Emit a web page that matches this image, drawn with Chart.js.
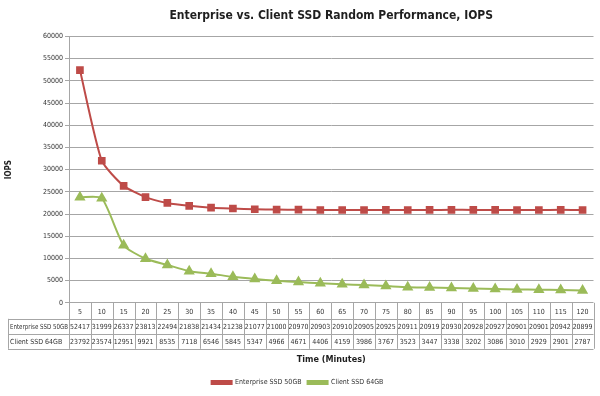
<!DOCTYPE html>
<html>
<head>
<meta charset="utf-8">
<script src="https://cdn.jsdelivr.net/npm/chart.js@4/dist/chart.umd.min.js"></script>
<style>
  html, body { margin: 0; padding: 0; background: #fff; }
  #contenedor { width: 600px; height: 396px; }
</style>
</head>
<body>
<div id="contenedor"><canvas id="grafico"></canvas></div>
<script>
// Datos del grafico
const minutos = ['5','10','15','20','25','30','35','40','45','50','55','60','65','70','75','80','85','90','95','100','105','110','115','120']
const enterprise = [52417,31999,26337,23813,22494,21838,21434,21238,21077,21000,20970,20903,20910,20905,20925,20911,20919,20930,20928,20927,20901,20901,20942,20899]
const cliente = [23792,23574,12951,9921,8535,7118,6546,5845,5347,4966,4671,4406,4159,3986,3767,3523,3447,3338,3202,3086,3010,2929,2901,2787]
const nombresSeries = ['Enterprise SSD 50GB', 'Client SSD 64GB']

const FUENTE = '"DejaVu Sans Condensed", "Liberation Sans Narrow", "Liberation Sans", sans-serif'
const ROJO = '#BE4B48'
const VERDE = '#9BBB59'
const GRIS = '#A6A6A6'

// Tabla de datos debajo del eje x
const tablaDatos = {
    id: 'tablaDatos',
    afterDraw(chart) {
        const ctx = chart.ctx
        const x = chart.scales.x
        const area = chart.chartArea
        const ancho = (area.right - area.left) / minutos.length
        const alto = 15
        const y0 = area.bottom
        const y1 = y0 + 16
        const izq = 8
        const filas = [enterprise, cliente]

        ctx.save()
        ctx.strokeStyle = GRIS
        ctx.lineWidth = 1
        ctx.beginPath()
        // lineas horizontales
        for (let f = 0; f <= filas.length; f++) {
            const yy = Math.round(y1 + f * alto) + 0.5
            ctx.moveTo(izq, yy)
            ctx.lineTo(area.right, yy)
        }
        // lineas verticales
        for (let i = 0; i <= minutos.length; i++) {
            const xx = Math.round(area.left + i * ancho) + 0.5
            ctx.moveTo(xx, y0)
            ctx.lineTo(xx, y1 + filas.length * alto)
        }
        ctx.moveTo(izq + 0.5, y1)
        ctx.lineTo(izq + 0.5, y1 + filas.length * alto)
        ctx.stroke()

        ctx.fillStyle = '#333'
        ctx.textBaseline = 'middle'
        filas.forEach((fila, f) => {
            const yy = y1 + f * alto + alto / 2 + 0.5
            ctx.font = '7px ' + FUENTE
            ctx.textAlign = 'left'
            ctx.fillText(nombresSeries[f], izq + 2, yy, area.left - izq - 3)
            ctx.textAlign = 'center'
            fila.forEach((v, i) => {
                ctx.fillText(String(v), x.getPixelForValue(i), yy, ancho - 2)
            })
        })
        ctx.restore()
    }
}

const contexto = document.getElementById('grafico').getContext('2d')
const grafico = new Chart(contexto, {
    type: 'line',
    data: {
        labels: minutos,
        datasets: [{
            label: nombresSeries[0],
            data: enterprise,
            borderColor: ROJO,
            backgroundColor: ROJO,
            borderWidth: 2,
            pointStyle: 'rect',
            pointRadius: 4,
            pointHoverRadius: 4,
            tension: 0.2
        }, {
            label: nombresSeries[1],
            data: cliente,
            borderColor: VERDE,
            backgroundColor: VERDE,
            borderWidth: 2,
            pointStyle: 'triangle',
            pointRadius: 4.5,
            pointHoverRadius: 4.5,
            tension: 0.2
        }]
    },
    options: {
        responsive: true,
        maintainAspectRatio: false,
        animation: false,
        layout: { padding: { left: 0, right: 5, top: 0, bottom: 0 } },
        plugins: {
            title: {
                display: true,
                text: 'Enterprise vs. Client SSD Random Performance, IOPS',
                fullSize: false,
                color: '#1F1F1F',
                font: { family: FUENTE, size: 12, weight: 'bold' },
                padding: { top: 9, bottom: 13 }
            },
            legend: {
                display: true,
                position: 'bottom',
                labels: {
                    color: '#333',
                    font: { family: FUENTE, size: 7 },
                    boxWidth: 20,
                    boxHeight: 3,
                    padding: 6
                }
            },
            tooltip: { enabled: false }
        },
        scales: {
            x: {
                offset: true,
                grid: { display: false, drawTicks: false },
                border: { display: false },
                ticks: {
                    color: '#333',
                    font: { family: FUENTE, size: 7 },
                    padding: 5,
                    maxRotation: 0,
                    autoSkip: false
                },
                title: {
                    display: true,
                    text: 'Time (Minutes)',
                    color: '#1F1F1F',
                    font: { family: FUENTE, size: 9, weight: 'bold' },
                    padding: { top: 33, bottom: 8 }
                }
            },
            y: {
                min: 0,
                max: 60000,
                afterFit(escala) { escala.width = 69 },
                grid: { color: GRIS, lineWidth: 1, tickLength: 4 },
                border: { color: GRIS },
                ticks: {
                    stepSize: 5000,
                    color: '#333',
                    font: { family: FUENTE, size: 7 },
                    padding: 2,
                    callback: (valor) => String(valor)
                },
                title: {
                    display: true,
                    text: 'IOPS',
                    color: '#1F1F1F',
                    font: { family: FUENTE, size: 8, weight: 'bold' },
                    padding: { top: 4, bottom: 0 }
                }
            }
        }
    },
    plugins: [tablaDatos]
})
</script>
</body>
</html>
